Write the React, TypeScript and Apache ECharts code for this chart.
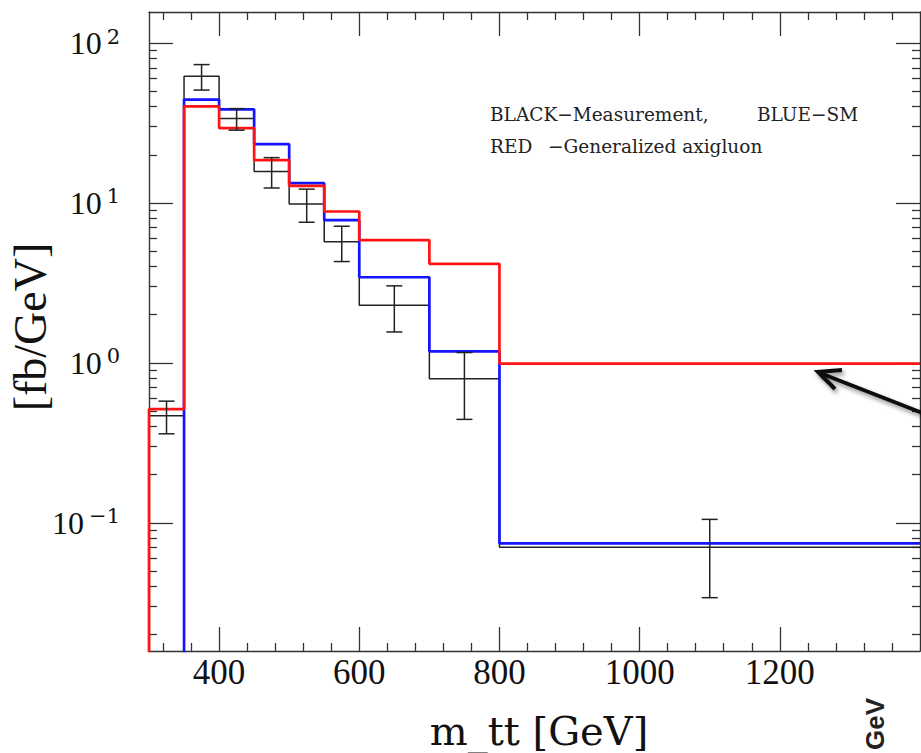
import React, { useEffect, useRef } from "react";
import * as echarts from "echarts";

// Bin edges (GeV)
const binEdges = [300, 350, 400, 450, 500, 550, 600, 700, 800, 1400];
// Measurement (black), SM (blue), Generalized axigluon (red) in fb/GeV
const measured = [0.466, 61.9, 33.7, 15.7, 9.86, 5.71, 2.29, 0.794, 0.0702];
const smPrediction = [null, 44.3, 38.5, 23.3, 13.3, 7.8, 3.43, 1.18, 0.0743];
const axigluon = [0.514, 40.2, 29.4, 18.5, 12.8, 8.84, 5.85, 4.16, 0.99];
// Error bars of the measurement
const errCenters = [325, 375, 425, 475, 525, 575, 650, 750, 1100];
const errLow = [0.36, 50.8, 28.5, 12.4, 7.57, 4.3, 1.56, 0.443, 0.034];
const errHigh = [0.576, 73.3, 38.9, 19.2, 12.2, 7.15, 3.03, 1.16, 0.105];
// Axis ticks
const xMajorTicks = [400, 600, 800, 1000, 1200];
const xMinorTicks = [320, 360, 440, 480, 520, 560, 640, 680, 720, 760, 840, 880, 920, 960, 1040, 1080, 1120, 1160, 1240, 1280, 1320, 1360];
const yMajorTicks = [0.1, 1, 10, 100];
const yMinorTicks = [
  0.02, 0.03, 0.04, 0.05, 0.06, 0.07, 0.08, 0.09,
  0.2, 0.3, 0.4, 0.5, 0.6, 0.7, 0.8, 0.9,
  2, 3, 4, 5, 6, 7, 8, 9,
  20, 30, 40, 50, 60, 70, 80, 90,
];
const X_MIN = 300;
const X_MAX = 1400;
const Y_MIN = Math.pow(10, -1.802);
const Y_MAX = Math.pow(10, 2.194);
const FLOOR = 1e-3;

function buildSteps(edges: number[], values: (number | null)[]) {
  const pts: number[][] = [];
  values.forEach((v, i) => {
    if (v == null) return;
    if (pts.length === 0) pts.push([edges[i], FLOOR]);
    pts.push([edges[i], v]);
    pts.push([edges[i + 1], v]);
  });
  return pts;
}

const SERIF = '"Liberation Serif", "Times New Roman", serif';
const DSERIF = '"DejaVu Serif", serif';
const AXIS_COLOR = "#333";

function xAxisDef(position: string, ticks: number[], len: number, showLine: boolean, labels: boolean) {
  return {
    type: "value",
    position,
    min: X_MIN,
    max: X_MAX,
    axisLine: { show: showLine, onZero: false, lineStyle: { color: AXIS_COLOR, width: 1.4 } },
    axisTick: { show: true, inside: true, length: len, customValues: ticks, lineStyle: { color: AXIS_COLOR, width: 1.3 } },
    axisLabel: labels
      ? {
          show: true,
          customValues: ticks,
          margin: 4,
          fontFamily: SERIF,
          fontSize: 35,
          color: "#111",
          formatter: (v: number) => String(v),
        }
      : { show: false },
    splitLine: { show: false },
  };
}

function yAxisDef(position: string, ticks: number[], len: number, showLine: boolean, labels: boolean) {
  return {
    type: "log",
    logBase: 10,
    position,
    min: Y_MIN,
    max: Y_MAX,
    axisLine: { show: showLine, onZero: false, lineStyle: { color: AXIS_COLOR, width: 1.4 } },
    axisTick: { show: true, inside: true, length: len, customValues: ticks, lineStyle: { color: AXIS_COLOR, width: 1.3 } },
    axisLabel: labels
      ? {
          show: true,
          customValues: ticks,
          margin: 29,
          formatter: (v: number) => {
            const e = Math.round(Math.log10(v));
            return "{b|10}{s|" + (e < 0 ? "\u2212" + -e : String(e)) + "}";
          },
          rich: {
            b: { fontFamily: SERIF, fontSize: 32, color: "#111", lineHeight: 34 },
            s: { fontFamily: DSERIF, fontSize: 21, color: "#111", lineHeight: 21, verticalAlign: "top", padding: [0, 0, 0, 5] },
          },
        }
      : { show: false },
    splitLine: { show: false },
    minorTick: { show: false },
  };
}

export default function App() {
  const ref = useRef<HTMLDivElement>(null);
  useEffect(() => {
    if (!ref.current) return;
    const chart = echarts.init(ref.current, undefined, { renderer: "svg" });
    const errData = errCenters.map((c, i) => [c, errLow[i], errHigh[i]]);
    const legendStyle = (text: string) => ({
      text,
      fontFamily: DSERIF,
      fontSize: 18.5,
      fill: "#222",
      align: "left",
      verticalAlign: "middle",
      textAlign: "left",
      textVerticalAlign: "middle",
    });
    const option: any = {
      animation: false,
      backgroundColor: "#ffffff",
      grid: { left: 149, right: 1, top: 12, bottom: 102, containLabel: false, outerBoundsMode: "none" },
      xAxis: [
        xAxisDef("bottom", xMajorTicks, 24, true, true),
        xAxisDef("bottom", xMinorTicks, 8, false, false),
        xAxisDef("top", xMajorTicks, 24, true, false),
        xAxisDef("top", xMinorTicks, 8, false, false),
      ],
      yAxis: [
        yAxisDef("left", yMajorTicks, 24, true, true),
        yAxisDef("left", yMinorTicks, 8, false, false),
        yAxisDef("right", yMajorTicks, 24, true, false),
        yAxisDef("right", yMinorTicks, 8, false, false),
      ],
      series: [
        {
          name: "Measurement",
          type: "line",
          data: buildSteps(binEdges, measured),
          showSymbol: false,
          symbol: "none",
          clip: true,
          z: 2,
          lineStyle: { color: "#222", width: 1.5 },
          silent: true,
        },
        {
          name: "SM",
          type: "line",
          data: buildSteps(binEdges, smPrediction),
          showSymbol: false,
          symbol: "none",
          clip: true,
          z: 3,
          lineStyle: { color: "#1414ff", width: 2.7 },
          silent: true,
        },
        {
          name: "Generalized axigluon",
          type: "line",
          data: buildSteps(binEdges, axigluon),
          showSymbol: false,
          symbol: "none",
          clip: true,
          z: 4,
          lineStyle: { color: "#ff1414", width: 2.7 },
          silent: true,
        },
        {
          name: "errors",
          type: "custom",
          z: 5,
          silent: true,
          data: errData,
          encode: { x: 0, y: [1, 2] },
          renderItem: (params: any, api: any) => {
            const x = api.value(0);
            const lo = api.coord([x, api.value(1)]);
            const hi = api.coord([x, api.value(2)]);
            const w = 8;
            const style = { stroke: "#222", lineWidth: 1.5, fill: null };
            return {
              type: "group",
              children: [
                { type: "line", shape: { x1: lo[0], y1: lo[1], x2: hi[0], y2: hi[1] }, style },
                { type: "line", shape: { x1: lo[0] - w, y1: lo[1], x2: lo[0] + w, y2: lo[1] }, style },
                { type: "line", shape: { x1: hi[0] - w, y1: hi[1], x2: hi[0] + w, y2: hi[1] }, style },
              ],
            };
          },
        },
      ],
      graphic: [
        {
          type: "text",
          x: 30,
          y: 327,
          rotation: Math.PI / 2,
          style: { text: "[fb/GeV]", fontFamily: SERIF, fontSize: 46, fill: "#111", align: "center", verticalAlign: "middle", textAlign: "center", textVerticalAlign: "middle" },
        },
        {
          type: "text",
          x: 539,
          y: 731,
          style: { text: "m_tt [GeV]", fontFamily: DSERIF, fontSize: 40, fill: "#111", align: "center", verticalAlign: "middle", textAlign: "center", textVerticalAlign: "middle" },
        },
        { type: "text", x: 490, y: 114, style: legendStyle("BLACK\u2212Measurement,") },
        { type: "text", x: 757, y: 114, style: legendStyle("BLUE\u2212SM") },
        { type: "text", x: 490, y: 146, style: legendStyle("RED") },
        { type: "text", x: 548, y: 146, style: legendStyle("\u2212Generalized axigluon") },
        {
          type: "polyline",
          z: 10,
          shape: { points: [[925, 414], [820, 373]] },
          style: { stroke: "#111", lineWidth: 4, fill: null, shadowBlur: 4, shadowColor: "rgba(0,0,0,0.45)", shadowOffsetX: 2, shadowOffsetY: 3 },
        },
        {
          type: "polyline",
          z: 10,
          shape: { points: [[842, 370], [818, 372], [835, 389]] },
          style: { stroke: "#111", lineWidth: 4, fill: null, lineJoin: "miter", shadowBlur: 4, shadowColor: "rgba(0,0,0,0.45)", shadowOffsetX: 2, shadowOffsetY: 3 },
        },
        {
          type: "text",
          x: 875,
          y: 750,
          rotation: Math.PI / 2,
          style: { text: "GeV", fontFamily: '"Liberation Sans", Arial, sans-serif', fontWeight: "bold", fontSize: 26, fill: "#222", align: "left", verticalAlign: "middle", textAlign: "left", textVerticalAlign: "middle" },
        },
      ],
    };
    chart.setOption(option);
    return () => chart.dispose();
  }, []);
  return (
    <div
      ref={ref}
      style={{ position: "fixed", left: 0, top: 0, width: 921, height: 753, background: "#fff" }}
    />
  );
}
